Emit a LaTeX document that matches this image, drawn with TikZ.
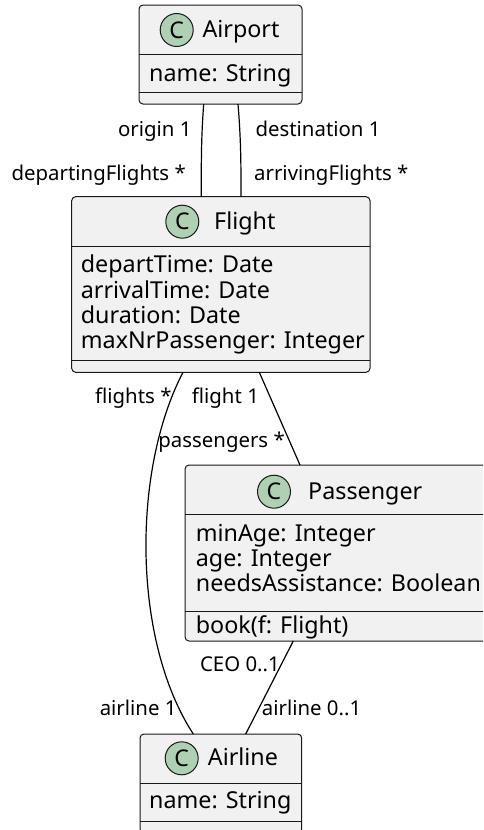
\documentclass[tikz,border=0pt]{standalone}
\usepackage{fontspec}
\setmainfont{Noto Sans}
\definecolor{boxfill}{HTML}{F1F1F1}
\definecolor{boxline}{HTML}{181818}
\definecolor{iconfill}{HTML}{ADD1B2}
\begin{document}
\begin{tikzpicture}[%
            x=1pt, y=-1pt,
            classbox/.style={draw=boxline, fill=boxfill, line width=1pt, rounded corners=4pt, inner sep=0pt, outer sep=0pt},
            sepline/.style={draw=boxline, line width=1pt},
            classicon/.style={shape=circle, draw=boxline, fill=iconfill, line width=1pt, minimum size=33pt, inner sep=0pt, font=\fontsize{23}{26}\selectfont\bfseries},
            classname/.style={anchor=base west, inner sep=0pt, font=\fontsize{23.3}{26}\selectfont},
            member/.style={anchor=base west, inner sep=0pt, font=\fontsize{23.3}{26}\selectfont},
            assoc/.style={draw=black, line width=1.2pt},
            rolelabel/.style={inner sep=0pt, font=\fontsize{20.4}{23}\selectfont}
        ]
        \useasboundingbox (0,0) rectangle (483,830);
        \clip (0,0) rectangle (483,830);

        % Airport
        \node [classbox, minimum width=163pt, minimum height=99pt] (airport) at (220.5,54.5) {};
        \draw [sepline] ([yshift=-49pt]airport.north west) -- ([yshift=-49pt]airport.north east)
                        ([yshift=-87pt]airport.north west) -- ([yshift=-87pt]airport.north east);
        \node [classicon] (airport-c) at (176.7,30) {C};
        \node [classname] (airport-n) at (202.3,37.5) {Airport};
        \node [member] (airport-a1) at (149,81.5) {name: String};

        % Flight
        \node [classbox, minimum width=298.3pt, minimum height=175.6pt] (flight) at (220.85,284.5) {};
        \draw [sepline] ([yshift=-50pt]flight.north west) -- ([yshift=-50pt]flight.north east)
                        ([yshift=-164pt]flight.north west) -- ([yshift=-164pt]flight.north east);
        \node [classicon] (flight-c) at (182.3,221.7) {C};
        \node [classname] (flight-n) at (214,229.2) {Flight};
        \node [member] (flight-a1) at (80.7,272.7) {departTime: Date};
        \node [member] (flight-a2) at (80.7,298) {arrivalTime: Date};
        \node [member] (flight-a3) at (80.7,323.3) {duration: Date};
        \node [member] (flight-a4) at (80.7,348.6) {maxNrPassenger: Integer};

        % Passenger
        \node [classbox, minimum width=308pt, minimum height=176pt] (passenger) at (339,553) {};
        \draw [sepline] ([yshift=-49pt]passenger.north west) -- ([yshift=-49pt]passenger.north east)
                        ([yshift=-146.7pt]passenger.north west) -- ([yshift=-146.7pt]passenger.north east);
        \node [classicon] (passenger-c) at (274,491.7) {C};
        \node [classname] (passenger-n) at (308,499.2) {Passenger};
        \node [member] (passenger-a1) at (195.7,541.7) {minAge: Integer};
        \node [member] (passenger-a2) at (195.7,566.7) {age: Integer};
        \node [member] (passenger-a3) at (195.7,591.7) {needsAssistance: Boolean};
        \node [member] (passenger-m1) at (195.7,633) {book(f: Flight)};

        % Airline
        \node [classbox, minimum width=161.7pt, minimum height=99pt] (airline) at (220.85,783.5) {};
        \draw [sepline] ([yshift=-49.3pt]airline.north west) -- ([yshift=-49.3pt]airline.north east)
                        ([yshift=-87pt]airline.north west) -- ([yshift=-87pt]airline.north east);
        \node [classicon] (airline-c) at (181.7,758.3) {C};
        \node [classname] (airline-n) at (207.7,765.8) {Airline};
        \node [member] (airline-a1) at (149,808) {name: String};

        % associations
        \draw [assoc] ([xshift=64.7pt]airport.south west)
              .. controls +(-2.7,36) and +(0,-32) .. ([xshift=129.6pt]flight.north west);
        \draw [assoc] ([xshift=99pt]airport.south west)
              .. controls +(3,36) and +(0,-32) .. ([xshift=169.3pt]flight.north west);
        \draw [assoc] ([xshift=111.3pt]flight.south west)
              .. controls (132,470) and (132,640) .. ([xshift=53.3pt]airline.north west);
        \draw [assoc] ([xshift=187.6pt]flight.south west) -- ([xshift=115pt]passenger.north west);
        \draw [assoc] ([xshift=108.3pt]passenger.south west) -- ([xshift=105.7pt]airline.north west);

        % role names
        \path (191.7,136) node [rolelabel, anchor=base east] (l-origin) {origin 1}
              (186,180)   node [rolelabel, anchor=base east] (l-departing) {departingFlights *}
              (255.3,136) node [rolelabel, anchor=base west] (l-destination) {destination 1}
              (254,180)   node [rolelabel, anchor=base west] (l-arriving) {arrivingFlights *}
              (171.7,403) node [rolelabel, anchor=base east] (l-flights) {flights *}
              (191.7,403) node [rolelabel, anchor=base west] (l-flight) {flight 1}
              (285,447)   node [rolelabel, anchor=base east] (l-passengers) {passengers *}
              (280,671.7) node [rolelabel, anchor=base east] (l-ceo) {CEO 0..1}
              (176.7,715) node [rolelabel, anchor=base east] (l-airline1) {airline 1}
              (261.7,715) node [rolelabel, anchor=base west] (l-airline2) {airline 0..1};
    \end{tikzpicture}
\end{document}
